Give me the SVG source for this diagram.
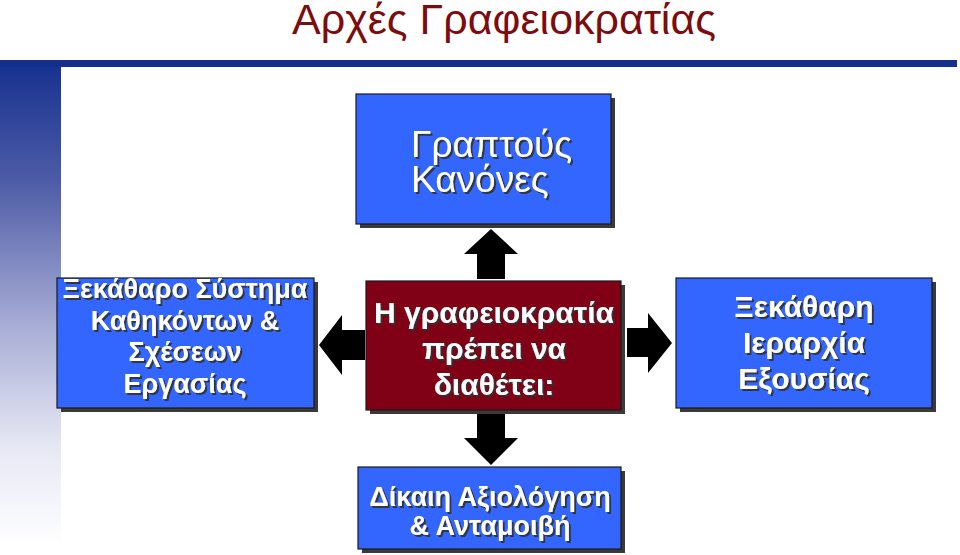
<svg xmlns="http://www.w3.org/2000/svg" width="960" height="555" viewBox="0 0 960 555">
<defs>
<linearGradient id="barGrad" x1="0" y1="60" x2="0" y2="545" gradientUnits="userSpaceOnUse">
<stop offset="0" stop-color="#14308e"/>
<stop offset="0.25" stop-color="#4d5ca6"/>
<stop offset="0.55" stop-color="#a9aed6"/>
<stop offset="0.8" stop-color="#e6e8f4"/>
<stop offset="1" stop-color="#ffffff"/>
</linearGradient>
<filter id="ts" x="-10%" y="-20%" width="130%" height="150%">
<feDropShadow dx="2" dy="2" stdDeviation="0.6" flood-color="#333333" flood-opacity="0.9"/>
</filter>
</defs>
<style>
.title{font-family:"Liberation Sans",Arial,sans-serif;font-size:43px;fill:#7d0c0c;text-anchor:middle}
.box{stroke:#1a1a1a;stroke-width:1.2}
.blue{fill:#3366ff}
.red{fill:#800015}
.shadow{fill:#3a3a3a}
.lbl{font-family:"Liberation Sans",Arial,sans-serif;font-weight:bold;fill:#ffffff;text-anchor:middle;filter:url(#ts)}
.lblr{font-family:"Liberation Sans",Arial,sans-serif;fill:#ffffff;filter:url(#ts)}
.arrow{fill:#000000}
</style>
<rect width="960" height="555" fill="#ffffff"/>
<rect x="0" y="60" width="61" height="495" fill="url(#barGrad)"/>
<rect x="0" y="60" width="957" height="7" fill="#14308e"/>
<text class="title" x="504" y="34">Αρχές Γραφειοκρατίας</text>

<g id="connectors">
<polygon class="arrow" points="491,229 518,254 505,254 505,279 477,279 477,254 464,254"/>
<polygon class="arrow" points="477,413 505,413 505,438 518,438 491,465 464,438 477,438"/>
<polygon class="arrow" points="319,345 342,315 342,330 365,330 365,360 342,360 342,375"/>
<polygon class="arrow" points="627,328 648,328 648,313 672,343 648,373 648,357 627,357"/>
</g>

<g id="node-rules">
<rect class="shadow" x="360" y="98" width="255" height="130"/>
<rect class="box blue" x="356" y="94" width="255" height="130"/>
<text class="lblr" font-size="37" x="411" y="157">Γραπτούς</text>
<text class="lblr" font-size="37" x="411" y="192">Κανόνες</text>
</g>

<g id="node-center">
<rect class="shadow" x="370" y="285" width="255" height="129"/>
<rect class="box red" x="366" y="281" width="255" height="129"/>
<text class="lbl" font-size="30" x="494" y="323">Η γραφειοκρατία</text>
<text class="lbl" font-size="30" x="494" y="359">πρέπει να</text>
<text class="lbl" font-size="30" x="494" y="395">διαθέτει:</text>
</g>

<g id="node-tasks">
<rect class="shadow" x="61" y="282" width="257" height="130"/>
<rect class="box blue" x="57" y="278" width="257" height="130"/>
<text class="lbl" font-size="27" x="185" y="298">Ξεκάθαρο Σύστημα</text>
<text class="lbl" font-size="27" x="185" y="330">Καθηκόντων &amp;</text>
<text class="lbl" font-size="27" x="185" y="361">Σχέσεων</text>
<text class="lbl" font-size="27" x="185" y="393">Εργασίας</text>
</g>

<g id="node-hierarchy">
<rect class="shadow" x="680" y="282" width="256" height="130"/>
<rect class="box blue" x="676" y="278" width="256" height="130"/>
<text class="lbl" font-size="30" x="804" y="317">Ξεκάθαρη</text>
<text class="lbl" font-size="30" x="804" y="353">Ιεραρχία</text>
<text class="lbl" font-size="30" x="804" y="389">Εξουσίας</text>
</g>

<g id="node-evaluation">
<rect class="shadow" x="362" y="471" width="263" height="82"/>
<rect class="box blue" x="358" y="467" width="263" height="82"/>
<text class="lbl" font-size="27" x="490" y="506">Δίκαιη Αξιολόγηση</text>
<text class="lbl" font-size="27" x="490" y="535">&amp; Ανταμοιβή</text>
</g>
</svg>
